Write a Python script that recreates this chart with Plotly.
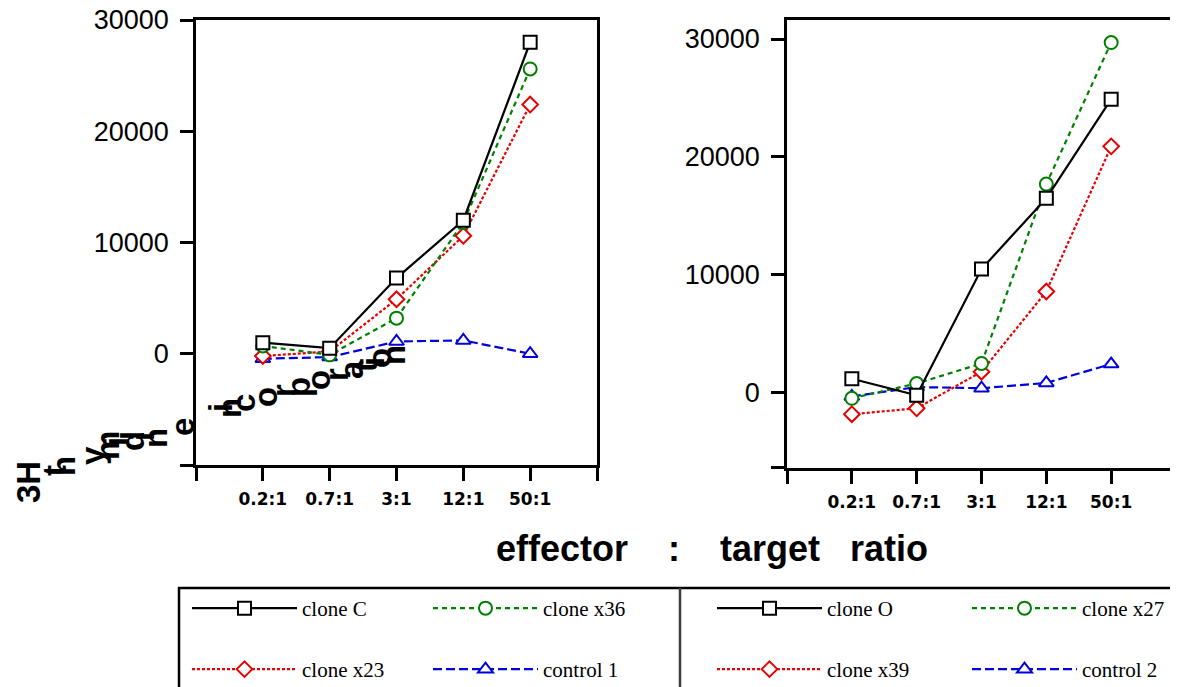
import plotly.graph_objects as go

# ---------------- data ----------------
ratios = ["0.2:1", "0.7:1", "3:1", "12:1", "50:1"]

clone_C = [1000, 500, 6800, 12000, 28000]
clone_x36 = [700, -100, 3200, 11800, 25600]
clone_x23 = [-200, 200, 4900, 10600, 22400]
control_1 = [-450, -300, 1100, 1200, 0]

clone_O = [1200, -200, 10500, 16500, 24900]
clone_x27 = [-450, 800, 2500, 17700, 29700]
clone_x39 = [-1800, -1300, 1800, 8600, 20900]
control_2 = [-300, 500, 400, 850, 2450]

left_yticks = [-10000, 0, 10000, 20000, 30000]
left_yticktext = ["", "0", "10000", "20000", "30000"]
right_yticks = [-6350, 0, 10000, 20000, 30000]
right_yticktext = ["", "0", "10000", "20000", "30000"]

x_title = "effector\u00a0\u00a0\u00a0\u00a0:\u00a0\u00a0\u00a0\u00a0target\u00a0\u00a0\u00a0ratio"
y_title = "3H thymidine incorporation"

# ---------------- layout helpers ----------------
PAGE_OFF = 8            # default body margin of the page
W, H = 1178 - PAGE_OFF, 687 - PAGE_OFF


def fx(x):
    return (x - PAGE_OFF) / W


def fy(y):
    return 1 - (y - PAGE_OFF) / H


GREEN = "rgb(0,128,0)"
RED = "rgb(230,0,0)"
BLUE = "rgb(0,0,220)"

styles = {
    "black": dict(color="black", dash="solid", symbol="square", size=13),
    "green": dict(color=GREEN, dash="5px,4px", symbol="circle", size=13),
    "red": dict(color=RED, dash="3px,2px", symbol="diamond", size=12),
    "blue": dict(color=BLUE, dash="9px,4px", symbol="triangle-up", size=13),
}

xpos = list(range(len(ratios)))

# (name, values, style, legend id, rank in legend, entry width)
left_series = [
    ("clone C", clone_C, "black", "legend", 1, 121),
    ("clone x36", clone_x36, "green", "legend", 2, 80),
    ("clone x23", clone_x23, "red", "legend2", 1, 121),
    ("control 1", control_1, "blue", "legend2", 2, 80),
]
right_series = [
    ("clone O", clone_O, "black", "legend3", 1, 135),
    ("clone x27", clone_x27, "green", "legend3", 2, 80),
    ("clone x39", clone_x39, "red", "legend4", 1, 135),
    ("control 2", control_2, "blue", "legend4", 2, 80),
]

fig = go.Figure()


def add_series(series, xa, ya):
    # draw in reverse so black is on top
    for name, vals, st, lg, rank, ew in reversed(series):
        s = styles[st]
        fig.add_trace(go.Scatter(
            x=xpos, y=vals, mode="lines+markers", name=name,
            xaxis=xa, yaxis=ya, legend=lg, legendrank=rank, legendwidth=ew,
            line=dict(color=s["color"], width=2.2, dash=s["dash"]),
            marker=dict(symbol=s["symbol"], size=s["size"], color="white",
                        line=dict(color=s["color"], width=2)),
        ))


add_series(left_series, "x", "y")
add_series(right_series, "x2", "y2")

axis_common = dict(
    showline=True, linewidth=2.5, linecolor="black", mirror=True,
    ticks="outside", ticklen=13, tickwidth=2.5, tickcolor="black",
    showgrid=False, zeroline=False, automargin=False,
    ticklabeloverflow="allow",
)

xticks = list(range(-1, len(ratios) + 1))
xticktext = [""] + ratios + [""]

xfont = dict(family="DejaVu Sans", size=17, color="black", weight="bold")
yfont = dict(family="Liberation Sans, Arial", size=27, color="black")

fig.update_layout(
    width=W, height=H,
    margin=dict(l=0, r=0, t=0, b=0, autoexpand=False),
    paper_bgcolor="white", plot_bgcolor="white",
    showlegend=True,
    xaxis=dict(domain=[fx(196), fx(597)], range=[-1, 5], tickmode="array",
               tickvals=xticks, ticktext=xticktext, tickfont=xfont,
               ticklabelstandoff=4, anchor="y", **axis_common),
    yaxis=dict(domain=[fy(465), fy(20)], range=[-10000, 30000], tickmode="array",
               tickvals=left_yticks, ticktext=left_yticktext, tickfont=yfont,
               ticklabelstandoff=6, anchor="x", **axis_common),
    xaxis2=dict(domain=[fx(787), fx(1176)], range=[-1, 5], tickmode="array",
                tickvals=xticks, ticktext=xticktext, tickfont=xfont,
                ticklabelstandoff=4, anchor="y2", **axis_common),
    yaxis2=dict(domain=[fy(468), fy(20)], range=[-6360, 31610], tickmode="array",
                tickvals=right_yticks, ticktext=right_yticktext, tickfont=yfont,
                ticklabelstandoff=6, anchor="x2", **axis_common),
)

legend_font = dict(family="Liberation Serif, Times New Roman", size=21, color="black")


def legend_cfg(x_item_start, y_top):
    return dict(
        orientation="h", x=fx(x_item_start), y=fy(y_top),
        xanchor="left", yanchor="top", itemwidth=105,
        entrywidthmode="pixels", font=legend_font, bgcolor="rgba(0,0,0,0)",
        borderwidth=0, tracegroupgap=0, traceorder="normal",
        itemclick=False, itemdoubleclick=False,
    )


fig.update_layout(
    legend=legend_cfg(187, 588),
    legend2=legend_cfg(187, 649),
    legend3=legend_cfg(712, 588),
    legend4=legend_cfg(712, 649),
)

# legend frame
fig.add_shape(type="rect", xref="paper", yref="paper",
              x0=fx(179), x1=fx(1182), y0=fy(692), y1=fy(588),
              line=dict(color="black", width=2.5), fillcolor="rgba(0,0,0,0)")
fig.add_shape(type="line", xref="paper", yref="paper",
              x0=fx(680), x1=fx(680), y0=fy(692), y1=fy(588),
              line=dict(color="rgb(60,60,60)", width=2.5))

# x-axis title
fig.add_annotation(text=x_title, xref="paper", yref="paper",
                   x=fx(712), y=fy(548), xanchor="center", yanchor="middle",
                   showarrow=False,
                   font=dict(family="Liberation Sans, Arial", size=36,
                             color="black", weight="bold"))

# y-axis title (scattered rotated glyphs as in the reference)
letters = [c for c in y_title.replace("3H", "\x00") if c != " "]
glyph_pos = [
    (28, 482),
    (54, 471), (63, 466), (92, 456), (107, 446), (116, 442), (133, 441),
    (142, 437), (155, 438), (182, 427),
    (220, 408), (229, 408), (243, 403), (265, 397), (283, 391), (298, 387),
    (318, 380), (336, 375), (351, 370), (365, 367), (372, 362), (380, 358),
    (393, 355),
]
for ch, (gx, gy) in zip(letters, glyph_pos):
    txt = "3H" if ch == "\x00" else ch
    fig.add_annotation(text=txt, xref="paper", yref="paper", x=fx(gx), y=fy(gy),
                       xanchor="center", yanchor="middle",
                       showarrow=False, textangle=-90,
                       font=dict(family="Liberation Sans, Arial", size=33,
                                 color="black", weight="bold"))

fig.write_html("out.html")
